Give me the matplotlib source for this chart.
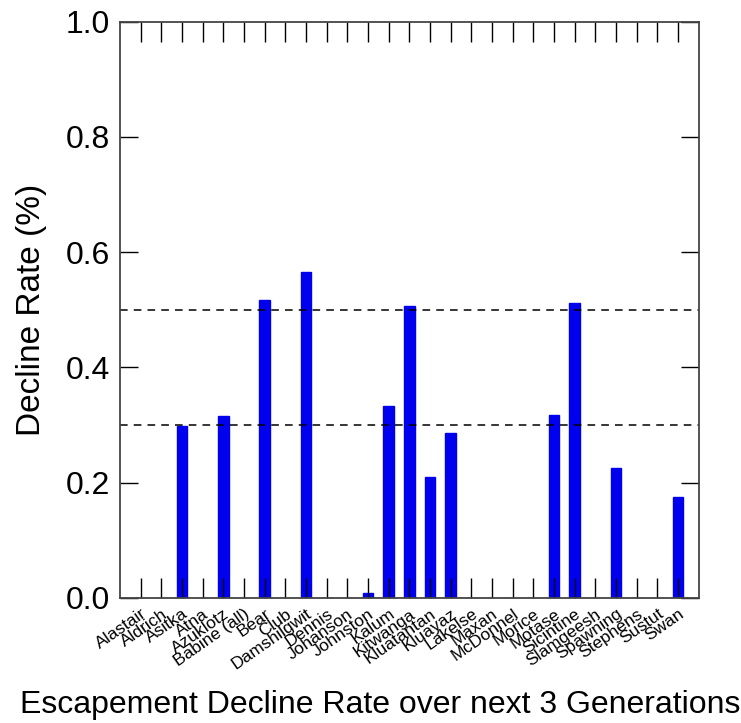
import numpy as np
import matplotlib.pyplot as plt

plt.rcParams['font.family'] = ['Liberation Sans', 'DejaVu Sans']

# Dane
populations = ['Alastair', 'Aldrich', 'Asitka', 'Atna', 'Azuklotz', 'Babine (all)',
               'Bear', 'Club', 'Damshilgwit', 'Dennis', 'Johanson', 'Johnston',
               'Kalum', 'Kitwanga', 'Kluatantan', 'Kluayaz', 'Lakelse', 'Maxan',
               'McDonnel', 'Morice', 'Motase', 'Sicintine', 'Slamgeesh', 'Spawning',
               'Stephens', 'Sustut', 'Swan']
decline_rate = [0.0, 0.0, 0.299, 0.0, 0.316, 0.0,
                0.517, 0.0, 0.566, 0.0, 0.0, 0.009,
                0.333, 0.507, 0.210, 0.287, 0.0, 0.0,
                0.0, 0.0, 0.318, 0.512, 0.0, 0.226,
                0.0, 0.0, 0.175]
thresholds = [0.3, 0.5]
y_ticks = [0.0, 0.2, 0.4, 0.6, 0.8, 1.0]

x = np.arange(1, len(populations) + 1)

fig = plt.figure(figsize=(7.41, 7.23), dpi=100)
ax = fig.add_axes([0.162, 0.173, 0.781, 0.797])

ax.bar(x, decline_rate, width=0.52, color='#0000ee', edgecolor='#0000ee', linewidth=1)

for t in thresholds:
    ax.axhline(t, color='black', linestyle=(0, (5, 4)), linewidth=1.1)

ax.set_xlim(0, len(populations) + 1)
ax.set_ylim(0, 1.0)
ax.set_yticks(y_ticks)
ax.set_yticklabels([f'{v:.1f}' for v in y_ticks], fontsize=23)
ax.set_xticks(x)
ax.set_xticklabels(populations, rotation=35, ha='right', rotation_mode='anchor', fontsize=12.5)

ax.tick_params(axis='x', direction='in', length=14.5, width=1, top=True, pad=6, colors='black')
ax.tick_params(axis='y', direction='in', length=13, width=1, right=True, pad=7, colors='black')
for s in ax.spines.values():
    s.set_color('#444444')
    s.set_linewidth(1.3)

ax.set_ylabel('Decline Rate (%)', fontsize=24, labelpad=14)
fig.text(0.513, 0.025, 'Escapement Decline Rate over next 3 Generations',
         fontsize=23, ha='center', va='center')

fig.savefig('out.png', dpi=100)
